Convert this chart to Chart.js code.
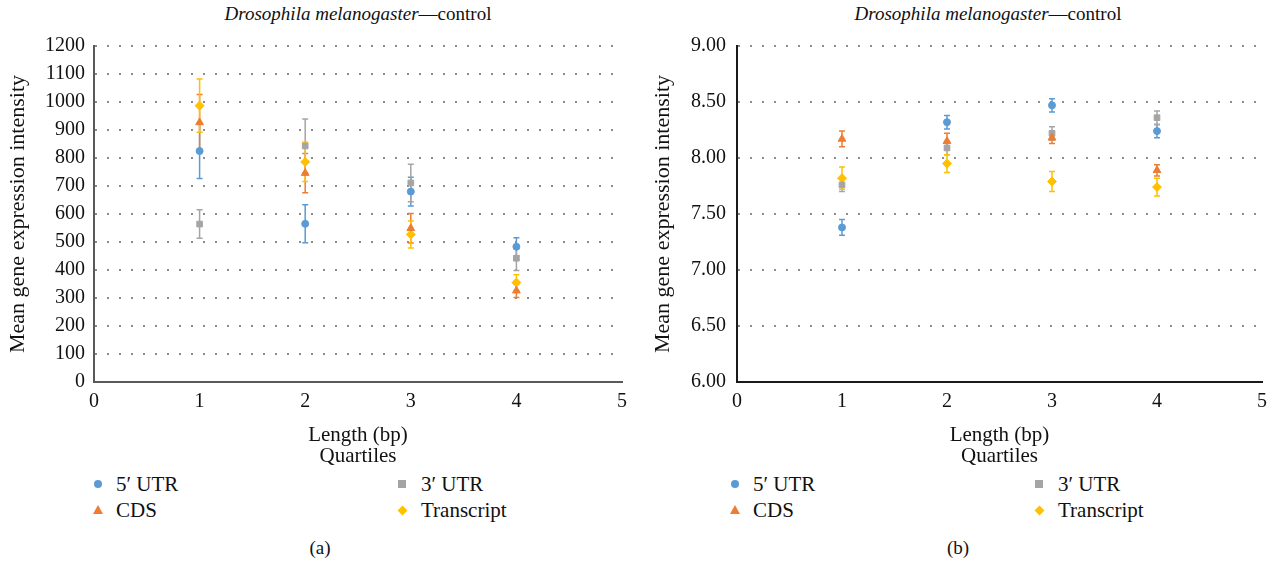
<!DOCTYPE html>
<html>
<head>
<meta charset="utf-8">
<script src="https://cdn.jsdelivr.net/npm/chart.js@4.4.0/dist/chart.umd.min.js"></script>
<style>
  body { margin: 0; width: 1275px; height: 564px; background: #fff; position: relative; overflow: hidden;
         font-family: "Liberation Serif", "DejaVu Serif", serif; color: #111; }
  .panel { position: absolute; top: 0; width: 637px; height: 564px; }
  .panel canvas { position: absolute; top: 0; }
  .title { position: absolute; top: 3px; font-size: 19px; line-height: 22px; white-space: nowrap; transform: translateX(-50%); }
  .item { position: absolute; font-size: 21px; line-height: 24px; white-space: nowrap; }
  .mk { position: absolute; }
  .caption { position: absolute; top: 536px; font-size: 19px; line-height: 24px; transform: translateX(-50%); }
</style>
</head>
<body>
<div class="panel" id="panelA" style="left:0">
  <div class="title" style="left:358px"><i>Drosophila melanogaster</i>—control</div>
  <canvas id="chartA" width="637" height="470" style="left:0"></canvas>
  <div class="caption" style="left:320px">(a)</div>
</div>
<div class="panel" id="panelB" style="left:637px">
  <div class="title" style="left:351px"><i>Drosophila melanogaster</i>—control</div>
  <canvas id="chartB" width="635" height="470" style="left:3px"></canvas>
  <div class="caption" style="left:321px">(b)</div>
</div>
<script>
// quartile positions on the x axis
const quartiles = [1, 2, 3, 4];
const seriesNames = ['5\u2032 UTR', 'CDS', '3\u2032 UTR', 'Transcript'];
const seriesColors = ['#5B9BD5', '#ED7D31', '#A5A5A5', '#FFC000'];
const seriesShapes = ['circle', 'triangle', 'rect', 'rectRot'];

// (a) mean expression intensity
const utr5A = [825, 565, 680, 483];
const utr5AErr = [98, 68, 51, 32];
const cdsA = [927, 746, 549, 326];
const cdsAErr = [100, 70, 53, 24];
const utr3A = [564, 843, 711, 442];
const utr3AErr = [51, 96, 67, 44];
const transcriptA = [987, 786, 527, 355];
const transcriptAErr = [95, 70, 48, 28];

// (b) mean expression intensity (log scale values)
const utr5B = [7.38, 8.32, 8.47, 8.24];
const utr5BErr = [0.07, 0.06, 0.06, 0.06];
const cdsB = [8.17, 8.15, 8.18, 7.89];
const cdsBErr = [0.07, 0.07, 0.05, 0.05];
const utr3B = [7.76, 8.09, 8.22, 8.36];
const utr3BErr = [0.06, 0.06, 0.06, 0.06];
const transcriptB = [7.82, 7.95, 7.79, 7.74];
const transcriptBErr = [0.10, 0.08, 0.09, 0.08];

const FONT = 'Liberation Serif';

// draws vertical error bars with caps, through the chart scales
const errorBars = {
  id: 'errorBars',
  beforeDatasetsDraw(chart) {
    const ctx = chart.ctx;
    const xs = chart.scales.x, ys = chart.scales.y;
    chart.data.datasets.forEach(ds => {
      ctx.save();
      ctx.strokeStyle = ds.borderColor;
      ctx.lineWidth = 1.5;
      ds.data.forEach((p, i) => {
        const e = ds.errors[i];
        const x = xs.getPixelForValue(p.x);
        const top = ys.getPixelForValue(p.y + e);
        const bot = ys.getPixelForValue(p.y - e);
        ctx.beginPath();
        ctx.moveTo(x, top); ctx.lineTo(x, bot);
        ctx.moveTo(x - 3, top); ctx.lineTo(x + 3, top);
        ctx.moveTo(x - 3, bot); ctx.lineTo(x + 3, bot);
        ctx.stroke();
      });
      ctx.restore();
    });
  }
};

function buildDatasets(values, errors) {
  return values.map((vals, k) => ({
    label: seriesNames[k],
    data: quartiles.map((q, i) => ({ x: q, y: vals[i] })),
    errors: errors[k],
    backgroundColor: seriesColors[k],
    borderColor: seriesColors[k],
    borderWidth: 1,
    pointStyle: seriesShapes[k],
    pointRadius: [3.5, 4.5, 4, 4.5][k]
  }));
}

function makeChart(id, datasets, yOpts, cfg) {
  new Chart(document.getElementById(id), {
    type: 'scatter',
    data: { datasets: datasets },
    plugins: [errorBars],
    options: {
      responsive: false,
      animation: false,
      layout: { padding: { top: 46, right: cfg.padRight, bottom: 0, left: 0 } },
      plugins: { legend: { display: false }, tooltip: { enabled: false } },
      scales: {
        x: {
          min: 0, max: 5,
          ticks: { stepSize: 1, padding: 8, color: '#111', font: { family: FONT, size: 20 } },
          grid: { display: false, drawTicks: false },
          border: { display: true, color: cfg.axisColor, width: 2 },
          title: { display: true, text: ['Length (bp)', 'Quartiles'], color: '#111',
                   font: { family: FONT, size: 21, lineHeight: 1.0 }, padding: { top: 0, bottom: 3 } },
          afterFit: s => { s.height = 88; }
        },
        y: Object.assign({
          grid: { color: '#8c8c8c', lineWidth: 2, drawTicks: false },
          border: { display: true, color: cfg.axisColor, width: 2, dash: [2, 10] },
          title: { display: true, text: 'Mean gene expression intensity', color: '#111',
                   font: { family: FONT, size: 22, lineHeight: 1.0 }, padding: { top: cfg.titlePad, bottom: 0 } },
          afterFit: s => { s.width = cfg.yWidth; }
        }, yOpts)
      }
    }
  });
}

makeChart('chartA',
  buildDatasets([utr5A, cdsA, utr3A, transcriptA], [utr5AErr, cdsAErr, utr3AErr, transcriptAErr]),
  { min: 0, max: 1200, ticks: { stepSize: 100, padding: 9, color: '#111', font: { family: FONT, size: 20 },
      callback: v => String(v) } },
  { padRight: 15, axisColor: '#595959', titlePad: 7, yWidth: 94 });

makeChart('chartB',
  buildDatasets([utr5B, cdsB, utr3B, transcriptB], [utr5BErr, cdsBErr, utr3BErr, transcriptBErr]),
  { min: 6, max: 9, ticks: { stepSize: 0.5, padding: 11, color: '#111', font: { family: FONT, size: 20 },
      callback: v => Number(v).toFixed(2) } },
  { padRight: 8, axisColor: '#1a1a1a', titlePad: 12, yWidth: 97 });

// legends as html, two columns
function legendMarker(shape, color) {
  const el = document.createElement('span');
  el.className = 'mk';
  if (shape === 'circle') {
    el.style.cssText = `left:-4px;top:-4px;width:8px;height:8px;border-radius:50%;background:${color}`;
  } else if (shape === 'triangle') {
    el.style.cssText = `left:-5px;top:-5px;width:0;height:0;border-left:5px solid transparent;border-right:5px solid transparent;border-bottom:9px solid ${color}`;
  } else if (shape === 'rect') {
    el.style.cssText = `left:-4px;top:-4px;width:8px;height:8px;background:${color}`;
  } else {
    el.style.cssText = `left:-3.5px;top:-3.5px;width:7px;height:7px;background:${color};transform:rotate(45deg)`;
  }
  return el;
}

function buildLegend(panelId) {
  const panel = document.getElementById(panelId);
  const cols = [[98, 116], [402, 421]];
  const rows = [484, 510];
  const order = [[0, 0, 0], [2, 1, 0], [1, 0, 1], [3, 1, 1]];
  order.forEach(([k, c, r]) => {
    const holder = document.createElement('div');
    holder.style.cssText = `position:absolute;left:${cols[c][0]}px;top:${rows[r]}px;width:0;height:0`;
    holder.appendChild(legendMarker(seriesShapes[k], seriesColors[k]));
    panel.appendChild(holder);
    const txt = document.createElement('div');
    txt.className = 'item';
    txt.style.left = cols[c][1] + 'px';
    txt.style.top = (rows[r] - 12) + 'px';
    txt.textContent = seriesNames[k];
    panel.appendChild(txt);
  });
}
buildLegend('panelA');
buildLegend('panelB');
</script>
</body>
</html>
